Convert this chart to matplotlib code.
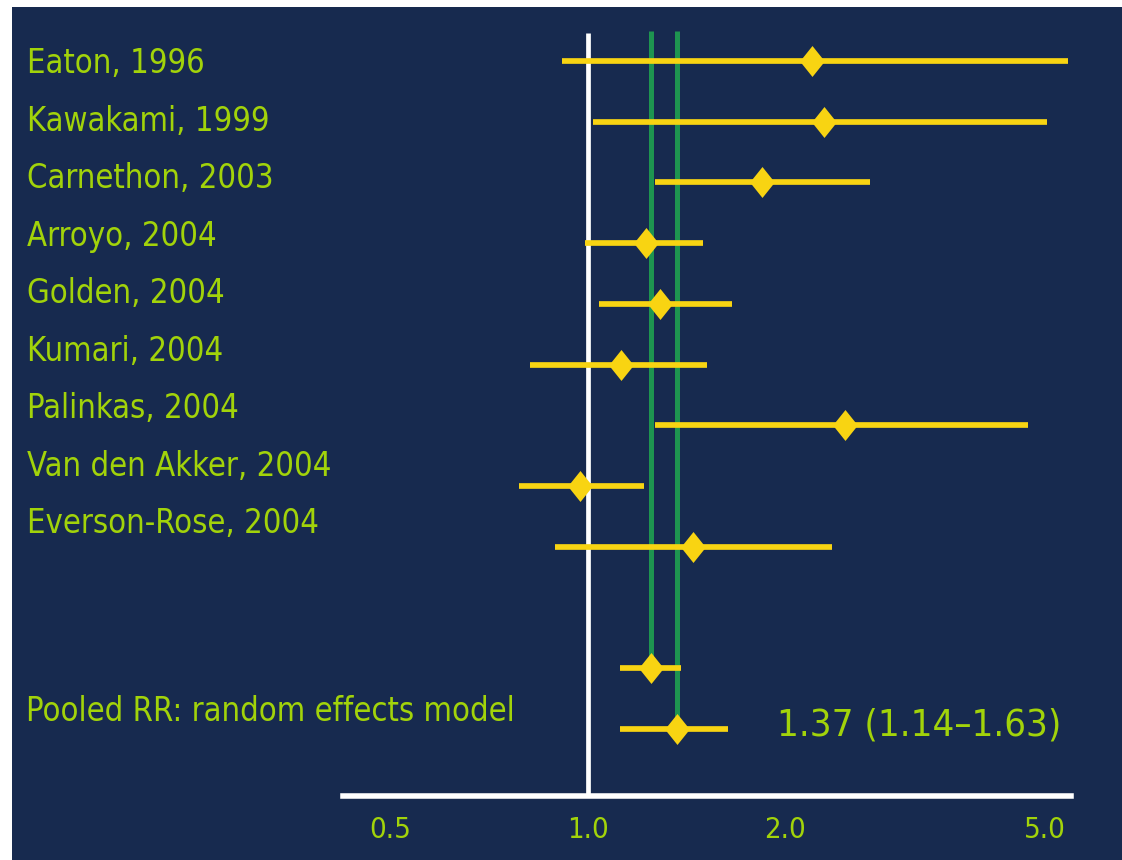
import numpy as np
import matplotlib
matplotlib.use("Agg")
import matplotlib.pyplot as plt
from matplotlib import font_manager
from matplotlib.patches import Rectangle
import matplotlib.transforms as mtransforms

# данные исследований (RR и 95% ДИ)
studies = ["Eaton, 1996", "Kawakami, 1999", "Carnethon, 2003", "Arroyo, 2004",
           "Golden, 2004", "Kumari, 2004", "Palinkas, 2004", "Van den Akker, 2004",
           "Everson-Rose, 2004"]
rr = [2.20, 2.30, 1.85, 1.23, 1.29, 1.125, 2.47, 0.974, 1.45]
ci_low = [0.914, 1.02, 1.27, 0.99, 1.04, 0.817, 1.27, 0.786, 0.892]
ci_high = [5.42, 5.03, 2.70, 1.50, 1.66, 1.52, 4.70, 1.22, 2.36]

# сводные оценки: fixed и random
pooled_rr = [1.25, 1.37]
pooled_low = [1.12, 1.12]
pooled_high = [1.39, 1.64]
pooled_label = "Pooled RR: random effects model"
pooled_text = "1.37 (1.14\u20131.63)"

xticks = [0.5, 1.0, 2.0, 5.0]
xticklabels = ["0.5", "1.0", "2.0", "5.0"]

navy = "#172a4f"
yellow = "#f8d412"
green = "#1e9450"
txt_col = "#a2d30a"

# шрифт: DejaVu Sans Condensed, если есть
has_cond = any(f.name == "DejaVu Sans" and f.stretch == "condensed"
               for f in font_manager.fontManager.ttflist)
if has_cond:
    fkw = dict(family="DejaVu Sans", fontstretch="condensed")
else:
    fkw = dict(family="Liberation Sans")

W, H = 1122, 860
fig = plt.figure(figsize=(W / 100, H / 100), dpi=100, facecolor="white")
fig.patches.append(Rectangle((12 / W, 0), 1 - 12 / W, 1 - 7 / H,
                             transform=fig.transFigure, facecolor=navy,
                             edgecolor="none", zorder=-10))

ax = fig.add_axes([12 / W, (H - 795.5) / H, 1110 / W, (795.5 - 7) / H])
ax.set_zorder(5)
ax.set_facecolor("none")
ax.set_xscale("log")
ax.set_xlim(10 ** (-575.5 / 655), 10 ** (534.5 / 655))
ax.set_ylim(12.1, -0.89)

for s in ["top", "left", "right"]:
    ax.spines[s].set_visible(False)
ax.spines["bottom"].set_color("white")
ax.spines["bottom"].set_linewidth(4)
ax.spines["bottom"].set_bounds(0.423, 5.47)
ax.set_yticks([])
ax.set_xticks(xticks)
ax.set_xticklabels(xticklabels)
ax.xaxis.set_minor_locator(matplotlib.ticker.NullLocator())
ax.tick_params(axis="x", length=0, pad=15, labelsize=21, labelcolor=txt_col)
for lab in ax.get_xticklabels():
    lab.set_fontfamily(fkw["family"])
    if has_cond:
        lab.set_fontstretch("condensed")

rows = np.arange(len(studies))
pooled_rows = [10, 11]

# линия RR = 1
ax.plot([1, 1], [-0.456, 12.1], color="white", lw=3.4, solid_capstyle="butt", zorder=1)
# зелёные линии сводных оценок
for v, r in zip(pooled_rr, pooled_rows):
    ax.plot([v, v], [-0.5, r], color=green, lw=3.6, solid_capstyle="butt", zorder=2)

diamond = [(0, 1), (0.8, 0), (0, -1), (-0.8, 0), (0, 1)]

ax.hlines(rows, ci_low, ci_high, color=yellow, lw=4.1, zorder=3)
ax.hlines(pooled_rows, pooled_low, pooled_high, color=yellow, lw=4.1, zorder=3)
ax.plot(rr, rows, linestyle="none", marker=diamond, markersize=22.3,
        color=yellow, markeredgewidth=0, zorder=4)
ax.plot(pooled_rr, pooled_rows, linestyle="none", marker=diamond, markersize=22.3,
        color=yellow, markeredgewidth=0, zorder=4)

trans = mtransforms.blended_transform_factory(ax.transAxes, ax.transData)
label_rows = 0.2026 + 0.947 * rows
for name, y in zip(studies, label_rows):
    ax.text(15 / 1110, y, name, transform=trans, ha="left", va="baseline",
            fontsize=23.5, color=txt_col, **fkw)
ax.text(14 / 1110, 10.868, pooled_label, transform=trans, ha="left", va="baseline",
        fontsize=23.5, color=txt_col, **fkw)
ax.text((777.3 - 12) / 1110, 11.104, pooled_text, transform=trans, ha="left",
        va="baseline", fontsize=27.5, color=txt_col, **fkw)

fig.savefig("out.png", dpi=100, facecolor="white")
